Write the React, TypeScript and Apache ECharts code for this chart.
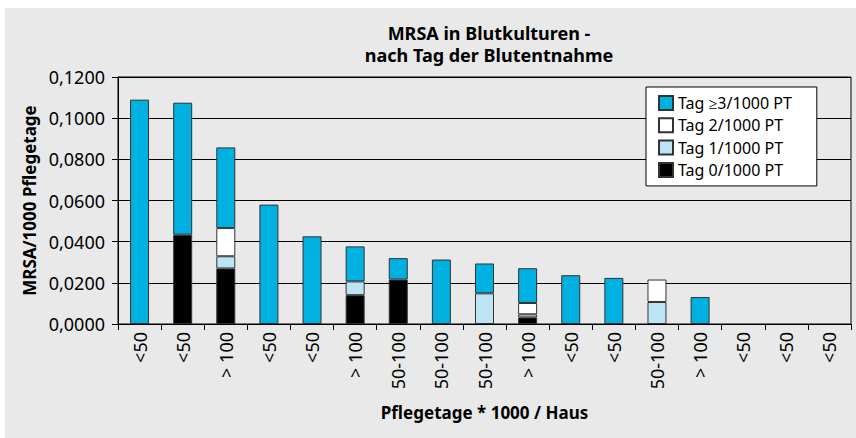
import React, { useEffect, useRef } from "react";
import * as echarts from "echarts";

const categories = ["<50", "<50", "> 100", "<50", "<50", "> 100", "50-100", "50-100", "50-100", "> 100", "<50", "<50", "50-100", "> 100", "<50", "<50", "<50"];
const tag0 = [0, 0.0434, 0.027, 0, 0, 0.014, 0.0216, 0, 0, 0.0032, 0, 0, 0, 0, 0, 0, 0];
const tag1 = [0, 0, 0.0059, 0, 0, 0.0067, 0, 0, 0.0149, 0.0015, 0, 0, 0.0107, 0, 0, 0, 0];
const tag2 = [0, 0, 0.0137, 0, 0, 0, 0, 0, 0, 0.0055, 0, 0, 0.0109, 0, 0, 0, 0];
const tag3 = [0.109, 0.0641, 0.0392, 0.058, 0.0426, 0.017, 0.0104, 0.0313, 0.0145, 0.0169, 0.0237, 0.0224, 0, 0.0131, 0, 0, 0];
const yTicks = { min: 0, max: 0.12, interval: 0.02 };

const FONT = "Noto Sans";

export default function App() {
  const ref = useRef<HTMLDivElement>(null);
  useEffect(() => {
    document.body.style.margin = "0";
    const chart = echarts.init(ref.current!, null, { renderer: "svg" });
    const seg = (name: string, data: number[], color: string) => ({
      name,
      type: "bar",
      stack: "total",
      barWidth: 19,
      data: data.map((v) => (v === 0 ? "-" : v)),
      itemStyle: { color, borderColor: "#333", borderWidth: 1 },
    });
    chart.setOption({
      animation: false,
      backgroundColor: "#fff",
      textStyle: { fontFamily: FONT, color: "#000" },
      graphic: [
        { type: "rect", z: -10, silent: true, shape: { x: 5, y: 8, width: 860, height: 440 }, style: { fill: "#e8e9e8" } },
      ],
      title: {
        text: "MRSA in Blutkulturen -\nnach Tag der Blutentnahme",
        left: 484,
        textAlign: "center",
        top: 17,
        textStyle: { fontFamily: FONT, fontWeight: "bold", fontSize: 18, lineHeight: 22, color: "#000" },
      },
      legend: {
        orient: "vertical",
        left: 646,
        top: 87,
        data: ["Tag ≥3/1000 PT", "Tag 2/1000 PT", "Tag 1/1000 PT", "Tag 0/1000 PT"],
        backgroundColor: "#fff",
        borderColor: "#000",
        borderWidth: 1,
        borderRadius: 0,
        padding: [8, 25, 8, 12],
        itemWidth: 14,
        itemHeight: 14,
        itemGap: 6.3,
        icon: "rect",
        textStyle: { fontFamily: FONT, fontSize: 16, color: "#000" },
      },
      grid: { left: 118, right: 5, top: 77, bottom: 114, show: true, borderColor: "#000", borderWidth: 1, backgroundColor: "transparent" },
      xAxis: {
        type: "category",
        data: categories,
        name: "Pflegetage * 1000 / Haus",
        nameLocation: "middle",
        nameGap: 80,
        nameTextStyle: { fontFamily: FONT, fontWeight: "bold", fontSize: 17, color: "#000" },
        axisLine: { lineStyle: { color: "#000", width: 1 } },
        axisTick: { show: true, length: 6, interval: 0, lineStyle: { color: "#000" } },
        axisLabel: { interval: 0, rotate: 90, margin: 8, fontSize: 18, color: "#000", fontFamily: FONT },
      },
      yAxis: {
        type: "value",
        min: yTicks.min,
        max: yTicks.max,
        interval: yTicks.interval,
        name: "MRSA/1000 Pflegetage",
        nameLocation: "middle",
        nameGap: 80,
        nameTextStyle: { fontFamily: FONT, fontWeight: "bold", fontSize: 17, color: "#000" },
        axisLine: { show: true, lineStyle: { color: "#000", width: 1 } },
        axisTick: { show: true, length: 6, lineStyle: { color: "#000" } },
        splitLine: { show: true, lineStyle: { color: "#000", width: 1 } },
        axisLabel: {
          margin: 13,
          fontSize: 18,
          color: "#000",
          fontFamily: FONT,
          formatter: (v: number) => v.toFixed(4).replace(".", ","),
        },
      },
      series: [
        seg("Tag 0/1000 PT", tag0, "#000000"),
        seg("Tag 1/1000 PT", tag1, "#bde4f4"),
        seg("Tag 2/1000 PT", tag2, "#ffffff"),
        seg("Tag ≥3/1000 PT", tag3, "#00b0e0"),
      ],
    });
    return () => chart.dispose();
  }, []);
  return <div ref={ref} style={{ width: 856, height: 438 }} />;
}
